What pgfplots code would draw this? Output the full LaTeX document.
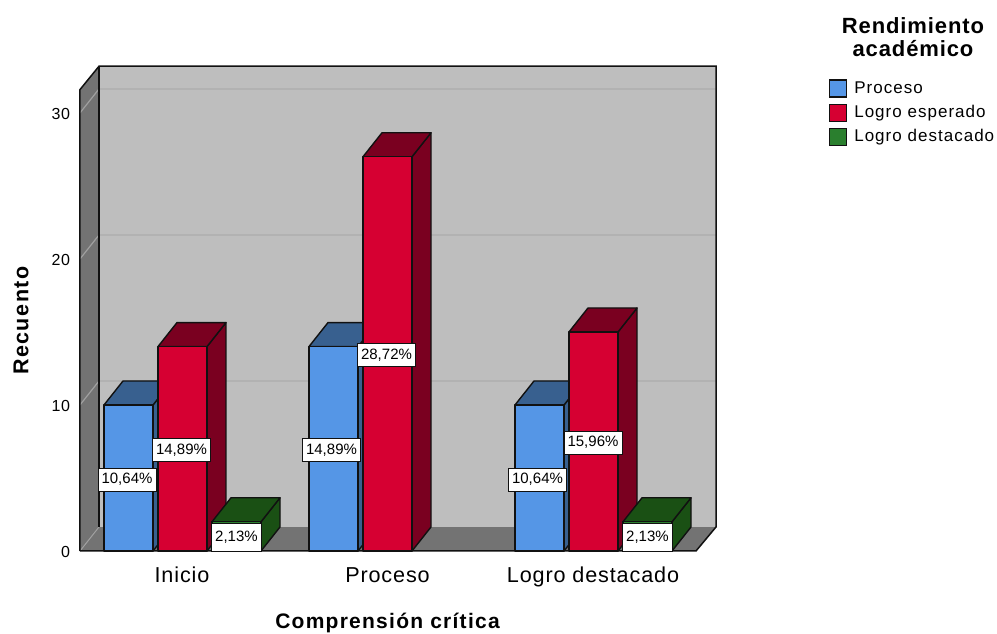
\documentclass[border=0pt]{standalone}
\usepackage{fontspec}
\usepackage{pgfplots}
\usepackage{pgfplotstable}
\pgfplotsset{compat=1.18}
\setmainfont{Liberation Sans}
\newfontfamily\spacedwide[LetterSpace=7]{Liberation Sans}
\newfontfamily\spaced[LetterSpace=6]{Liberation Sans}
\newfontfamily\spacedtight[LetterSpace=4]{Liberation Sans}

\definecolor{wallback}{HTML}{BEBEBE}
\definecolor{wallside}{HTML}{737373}
\definecolor{gridback}{HTML}{B2B2B2}
\definecolor{gridside}{HTML}{A0A0A0}
\definecolor{edge}{HTML}{111111}
\definecolor{blueF}{HTML}{5596E6}
\definecolor{blueD}{HTML}{38608F}
\definecolor{redF}{HTML}{D60032}
\definecolor{redD}{HTML}{7A0020}
\definecolor{greenF}{HTML}{2A7F2E}
\definecolor{greenD}{HTML}{1A5014}

% Depth of the 3D extrusion, in x units and in counts
\pgfmathsetmacro\depthx{19}
\pgfmathsetmacro\depthy{1.644}

% \barbox{left}{right}{count}{front colour}{shaded colour}
\newcommand\barbox[5]{%
  \pgfmathsetmacro\xl{#1+\depthx}%
  \pgfmathsetmacro\xr{#2+\depthx}%
  \pgfmathsetmacro\yt{#3+\depthy}%
  \addplot[forget plot,fill=#5,draw=edge,line width=1.4pt,line join=round]
    coordinates {(#2,0)(\xr,\depthy)(\xr,\yt)(#2,#3)} -- cycle;
  \addplot[forget plot,fill=#5,draw=edge,line width=1.4pt,line join=round]
    coordinates {(#1,#3)(\xl,\yt)(\xr,\yt)(#2,#3)} -- cycle;
  \addplot[forget plot,fill=#4,draw=edge,line width=1.4pt,line join=round]
    coordinates {(#1,0)(#2,0)(#2,#3)(#1,#3)} -- cycle;
}
% \gridlevel{count}: one gridline across the side wall and the back wall
\newcommand\gridlevel[1]{%
  \pgfmathsetmacro\yb{#1+\depthy}%
  \addplot[forget plot,draw=gridside,line width=1.2pt] coordinates {(80,#1)(99,\yb)};
  \addplot[forget plot,draw=gridback,line width=1.6pt] coordinates {(99,\yb)(716,\yb)};
}

\pgfplotstableread{
xc    count  label
127   10     10,64
181.5 14     14,89
331.5 14     14,89
386.5 27     28,72
537.5 10     10,64
593   15     15,96
}\labeltable
\pgfplotstableread{
xc    count  label
236.5 2      2,13
647.5 2      2,13
}\shortlabeltable

\pgfplotsset{
  percent label/.style={
    forget plot,draw=none,
    point meta=explicit symbolic,
    nodes near coords={\pgfplotspointmeta\%},
    nodes near coords align={center},
    every node near coord/.append style={
      font={\fontsize{15}{15}\selectfont},fill=white,draw=edge,line width=0.8pt,yshift=-1.5pt,
      inner xsep=3.5pt,inner ysep=0pt,text height=11pt,text depth=3.5pt,minimum height=#1}},
}

\begin{document}
\begin{tikzpicture}
\path[use as bounding box] (-79.5pt,-83pt) rectangle ++(997pt,634pt);
\begin{axis}[
  scale only axis,
  width=636.5pt, height=485.5pt,
  xmin=79.5, xmax=716,
  ymin=0, ymax=33.25,
  clip=false,
  axis line style={draw=none},
  tick style={draw=none},
  ytick={0,10,20,30},
  xtick={182,387.5,593},
  xticklabels={Inicio,Proceso,Logro destacado},
  /pgf/number format/assume math mode=true,
  yticklabel style={font={\fontsize{16}{16}\spacedtight},xshift=-6pt,yshift=-1pt},
  xticklabel style={font={\fontsize{21.6}{22}\spacedtight},yshift=-13pt,text height=15pt,text depth=4pt},
  xlabel={Comprensión crítica},
  xlabel style={font={\fontsize{21}{22}\spaced\bfseries},at={(axis cs:387.5,-4.9)},anchor=center},
  ylabel={Recuento},
  ylabel style={font={\fontsize{21.5}{22}\spacedwide\bfseries},rotate=0,at={(axis cs:21,15.77)},anchor=center},
  legend style={draw=none,fill=none,at={(axis cs:829,32.3)},anchor=north west,
    font={\fontsize{17}{18}\spaced},inner sep=0pt,outer sep=0pt,
    /tikz/row sep=6pt,
    /tikz/every odd column/.append style={column sep=6pt},
    nodes={inner sep=1pt,text height=12pt,text depth=3pt}},
  legend cell align=left,
  legend image code/.code={\draw[#1,draw=edge,line width=1.3pt] (2pt,-8.5pt) rectangle (19pt,8.5pt);},
]
% Walls and floor
\addplot[forget plot,fill=wallside,draw=none] coordinates {(80,0)(99,1.644)(99,33.2)(80,31.6)} -- cycle;
\addplot[forget plot,fill=wallside,draw=none] coordinates {(80,0)(696,0)(716,1.644)(99,1.644)} -- cycle;
\addplot[forget plot,fill=wallback,draw=none] coordinates {(99,1.644)(716,1.644)(716,33.2)(99,33.2)} -- cycle;
\gridlevel{10}
\gridlevel{20}
\gridlevel{30}
\addplot[forget plot,draw=gridside,line width=1pt] coordinates {(80,0)(99,1.644)};
% Outline of the box
\addplot[forget plot,draw=edge,line width=1.5pt] coordinates {(80,0)(80,31.6)(99,33.2)(716,33.2)(716,1.644)(696,0)(80,0)};
\addplot[forget plot,draw=edge,line width=1.5pt] coordinates {(99,1.644)(99,33.2)};
% Bars
\barbox{104}{153}{10}{blueF}{blueD}
\barbox{158}{207}{14}{redF}{redD}
\barbox{212}{261}{2}{greenF}{greenD}
\barbox{309}{358}{14}{blueF}{blueD}
\barbox{363}{412}{27}{redF}{redD}
\barbox{515}{564}{10}{blueF}{blueD}
\barbox{569}{618}{15}{redF}{redD}
\barbox{623}{672}{2}{greenF}{greenD}
% Percentage labels at mid-height of each bar
\addplot[percent label=23pt] table[x=xc,y expr=\thisrow{count}/2,meta=label] {\labeltable};
\addplot[percent label=28pt] table[x=xc,y expr=\thisrow{count}/2,meta=label] {\shortlabeltable};
% Legend
\addlegendimage{fill=blueF}\addlegendentry{Proceso}
\addlegendimage{fill=redF}\addlegendentry{Logro esperado}
\addlegendimage{fill=greenF}\addlegendentry{Logro destacado}
\node[align=center,font={\fontsize{22}{23}\spacedtight\bfseries}] at (axis cs:913,35.2) {Rendimiento\\académico};
\end{axis}
\end{tikzpicture}
\end{document}
